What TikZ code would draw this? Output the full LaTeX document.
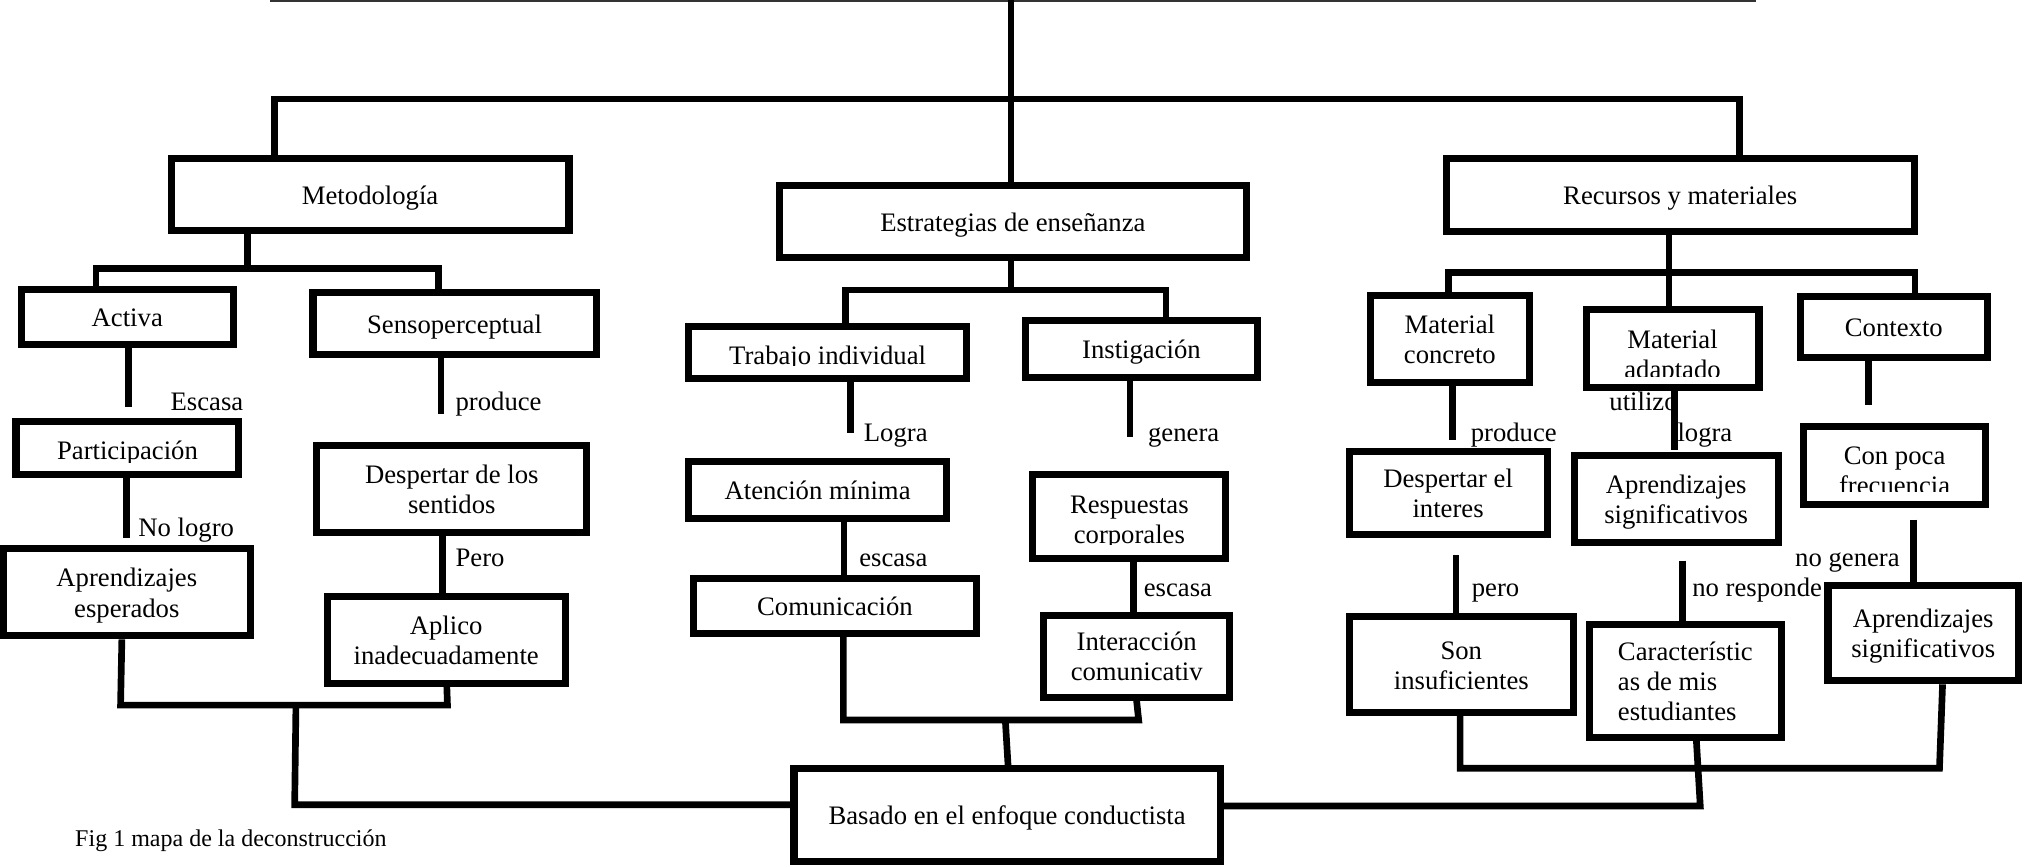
\documentclass[tikz,border=0pt]{standalone}
\usepackage{fontspec}
\setmainfont{Liberation Serif}
\newcommand\fsz{\fontsize{12pt}{13.6pt}\selectfont\setbox\strutbox\hbox{\vrule height 9.52pt depth 4.08pt width 0pt}}
\tikzset{
  box/.style={draw, line width=3.2pt, inner sep=0pt, align=center, font=\fsz},
  conn/.style={line width=3pt},
  lbl/.style={anchor=base west, inner sep=0pt, font=\fsz},
  txt/.style={anchor=base, inner sep=0pt, font=\fsz},
  capt/.style={anchor=base west, inner sep=0pt, font=\fontsize{10.8pt}{13pt}\selectfont}
}
% box: name, x1, y1, x2, y2 (outer edges), text
\newcommand\mkbox[6]{\node[box, minimum width={(#4-#2-5.5)*0.58pt}, minimum height={(#5-#3-5.5)*0.58pt}] (#1) at ({(#2+#4)/2},{(#3+#5)/2}) {\raisebox{-1.63pt}[\height][\depth]{\begin{tabular}{@{}c@{}}#6\end{tabular}}};}
\newcommand\mkboxL[6]{\node[box, minimum width={(#4-#2-5.5)*0.58pt}, minimum height={(#5-#3-5.5)*0.58pt}] (#1) at ({(#2+#4)/2},{(#3+#5)/2}) {\raisebox{-1.63pt}[\height][\depth]{\begin{tabular}{@{}l@{}}#6\end{tabular}}};}
\begin{document}
\begin{tikzpicture}[x=0.58pt,y=-0.58pt]
\useasboundingbox (0,0) rectangle (1568,670.8);

% ---- free ends of connectors
\coordinate (tl1) at (209,0.3);
\coordinate (tl2) at (1362,0.3);
\coordinate (topend) at (784,0);
\coordinate (fe-act) at (99.5,315.5);
\coordinate (fe-sen) at (342,321);
\coordinate (fe-par) at (98,417);
\coordinate (fe-tra) at (659.3,335.5);
\coordinate (fe-ins) at (876.4,339);
\coordinate (fe-mco) at (1126.6,341.2);
\coordinate (fe-mad) at (1298.4,349);
\coordinate (fe-ctx) at (1449,314);
\coordinate (fs-dei) at (1129,430.4);
\coordinate (fs-aps) at (1304.5,434.8);
\coordinate (fs-cpf) at (1483.8,403);

% ---- connector labels
\node[lbl] (l1) at (132,318.5) {Escasa};
\node[lbl] (l2) at (353,318.5) {produce};
\node[lbl] (l3) at (107,416.2) {No logro};
\node[lbl] (l4) at (353,439.5) {Pero};
\node[lbl] (l5) at (669.6,342.5) {Logra};
\node[lbl] (l6) at (890,342.5) {genera};
\node[lbl] (l7) at (666,439.5) {escasa};
\node[lbl] (l8) at (886.7,462.7) {escasa};
\node[lbl] (l9) at (1140.2,342.5) {produce};
\node[lbl] (l10) at (1247.7,318) {utilizo};
\node[lbl] (l11) at (1300.5,342.5) {logra};
\node[lbl] (l12) at (1141,462.7) {pero};
\node[lbl] (l13) at (1312,462.7) {no responde};
\node[lbl] (l14) at (1391.8,439.5) {no genera};
\node[capt] (cap) at (58,656.6) {Fig 1 mapa de la deconstrucción};

% ---- boxes
\mkbox{met}{130}{120}{444}{181.5}{Metodología}
\mkbox{est}{601.5}{141.4}{969.4}{202.4}{Estrategias de enseñanza}
\mkbox{rec}{1118.7}{120.2}{1487.3}{182.2}{Recursos y materiales}
\mkbox{act}{13.9}{222}{183.5}{270}{Activa}
\mkbox{sen}{240}{224}{465}{277.5}{Sensoperceptual}
\mkbox{par}{9.7}{324}{188}{371}{}
\mkbox{ape}{0}{422.7}{196.7}{495.8}{Aprendizajes\\esperados}
\mkbox{des}{243}{342.5}{457.7}{416}{Despertar de los\\sentidos}
\mkbox{apl}{251}{460}{441}{532.7}{Aplico\\inadecuadamente}
\mkbox{tra}{531.3}{250.7}{752.3}{296}{}
\mkbox{ins}{792.6}{245.6}{977.7}{295.5}{Instigación}
\mkbox{ate}{531.4}{355.4}{736.6}{404.6}{Atención mínima}
\mkbox{res}{798.2}{365}{953.3}{435.6}{}
\mkbox{com}{535}{445.9}{760}{493.7}{Comunicación}
\mkbox{int}{806.5}{474.3}{956.5}{543.4}{Interacción\\comunicativ}
\mkbox{bas}{613}{593.3}{949}{671}{Basado en el enfoque conductista}
\mkbox{mco}{1059.8}{226.2}{1188.8}{299.3}{Material\\concreto}
\mkbox{mad}{1227.2}{237.3}{1366.8}{303.2}{}
\mkbox{ctx}{1393.2}{227.5}{1544}{279.7}{Contexto}
\mkbox{dei}{1043.4}{347.7}{1202.5}{417}{Despertar el\\interes}
\mkbox{aps}{1218}{350.3}{1381.6}{423.4}{Aprendizajes\\significativos}
\mkbox{cpf}{1396}{328.3}{1542.4}{394.2}{}
\mkbox{son}{1043.4}{475.6}{1223}{555.3}{Son\\insuficientes}
\mkboxL{car}{1230}{481.3}{1383.9}{574.4}{Característic\\as de mis\\estudiantes}
\mkbox{apr}{1414.8}{451.1}{1568}{530.7}{Aprendizajes\\significativos}

% ---- texts cut off by their boxes
\begin{scope}
  \clip (9.7,324) rectangle (188,358.5);
  \node[txt] (par-t) at (98.85,356.5) {Participación};
\end{scope}
\begin{scope}
  \clip (531.3,250.7) rectangle (752.3,283.5);
  \node[txt] (tra-t) at (641.8,282.3) {Trabajo individual};
\end{scope}
\begin{scope}
  \clip (1227.2,237.3) rectangle (1366.8,292);
  \node[txt] (mad-t1) at (1297,270.1) {Material};
  \node[txt] (mad-t2) at (1297,293.5) {adaptado};
\end{scope}
\begin{scope}
  \clip (1396,328.3) rectangle (1542.4,381);
  \node[txt] (cpf-t1) at (1469.2,360) {Con poca};
  \node[txt] (cpf-t2) at (1469.2,383.5) {frecuencia};
\end{scope}
\begin{scope}
  \clip (798.2,365) rectangle (953.3,422);
  \node[txt] (res-t1) at (875.8,398) {Respuestas};
  \node[txt] (res-t2) at (875.8,421.4) {corporales};
\end{scope}

% ---- connectors
\draw[line width=1.2pt, black!80] (tl1) -- (tl2);
\draw[conn] (topend) -- (784,0 |- est.north);
\draw[conn] (213,0 |- met.north) -- (213,76.8) -- (1349,76.8) -- (1349,0 |- rec.north);

% left
\draw[conn] (192,0 |- met.south) -- (192,208);
\draw[conn] (74.5,0 |- act.north) -- (74.5,208) -- (340,208) -- (340,0 |- sen.north);
\draw[conn] (99.5,0 |- act.south) -- (fe-act);
\draw[conn] (342,0 |- sen.south) -- (fe-sen);
\draw[conn] (98,0 |- par.south) -- (fe-par);
\draw[conn] (343,0 |- des.south) -- (343,0 |- apl.north);
\draw[conn] (94.5,0 |- ape.south) -- (93.5,546.8) -- (347,546.8) -- (346.5,0 |- apl.south);
\draw[conn] (229.5,546.8) -- (228.5,624) -- (0,624 -| bas.west);

% middle
\draw[conn] (784,0 |- est.south) -- (784,225);
\draw[conn] (655.8,0 |- tra.north) -- (655.8,225) -- (904.3,225) -- (904.3,0 |- ins.north);
\draw[conn] (659.3,0 |- tra.south) -- (fe-tra);
\draw[conn] (876.4,0 |- ins.south) -- (fe-ins);
\draw[conn] (654.6,0 |- ate.south) -- (654.6,0 |- com.north);
\draw[conn] (879,0 |- res.south) -- (879,0 |- int.north);
\draw[conn] (654,0 |- com.south) -- (654,558.4) -- (883,558.4) -- (881.4,0 |- int.south);
\draw[conn] (779.6,558.4) -- (781.7,0 |- bas.north);

% right
\draw[conn] (1294.3,0 |- rec.south) -- (1294.3,0 |- mad.north);
\draw[conn] (1123.2,0 |- mco.north) -- (1123.2,211.5) -- (1485,211.5) -- (1485,0 |- ctx.north);
\draw[conn] (1126.6,0 |- mco.south) -- (fe-mco);
\draw[conn] (1298.4,0 |- mad.south) -- (fe-mad);
\draw[conn] (1449,0 |- ctx.south) -- (fe-ctx);
\draw[conn] (fs-dei) -- (1129,0 |- son.north);
\draw[conn] (fs-aps) -- (1304.5,0 |- car.north);
\draw[conn] (fs-cpf) -- (1483.8,0 |- apr.north);
\draw[conn] (1506.4,0 |- apr.south) -- (1504,595.8) -- (1132.3,595.8) -- (1132.3,0 |- son.south);
\draw[conn] (1315.5,0 |- car.south) -- (1318.5,625) -- (0,625 -| bas.east);
\end{tikzpicture}
\end{document}
